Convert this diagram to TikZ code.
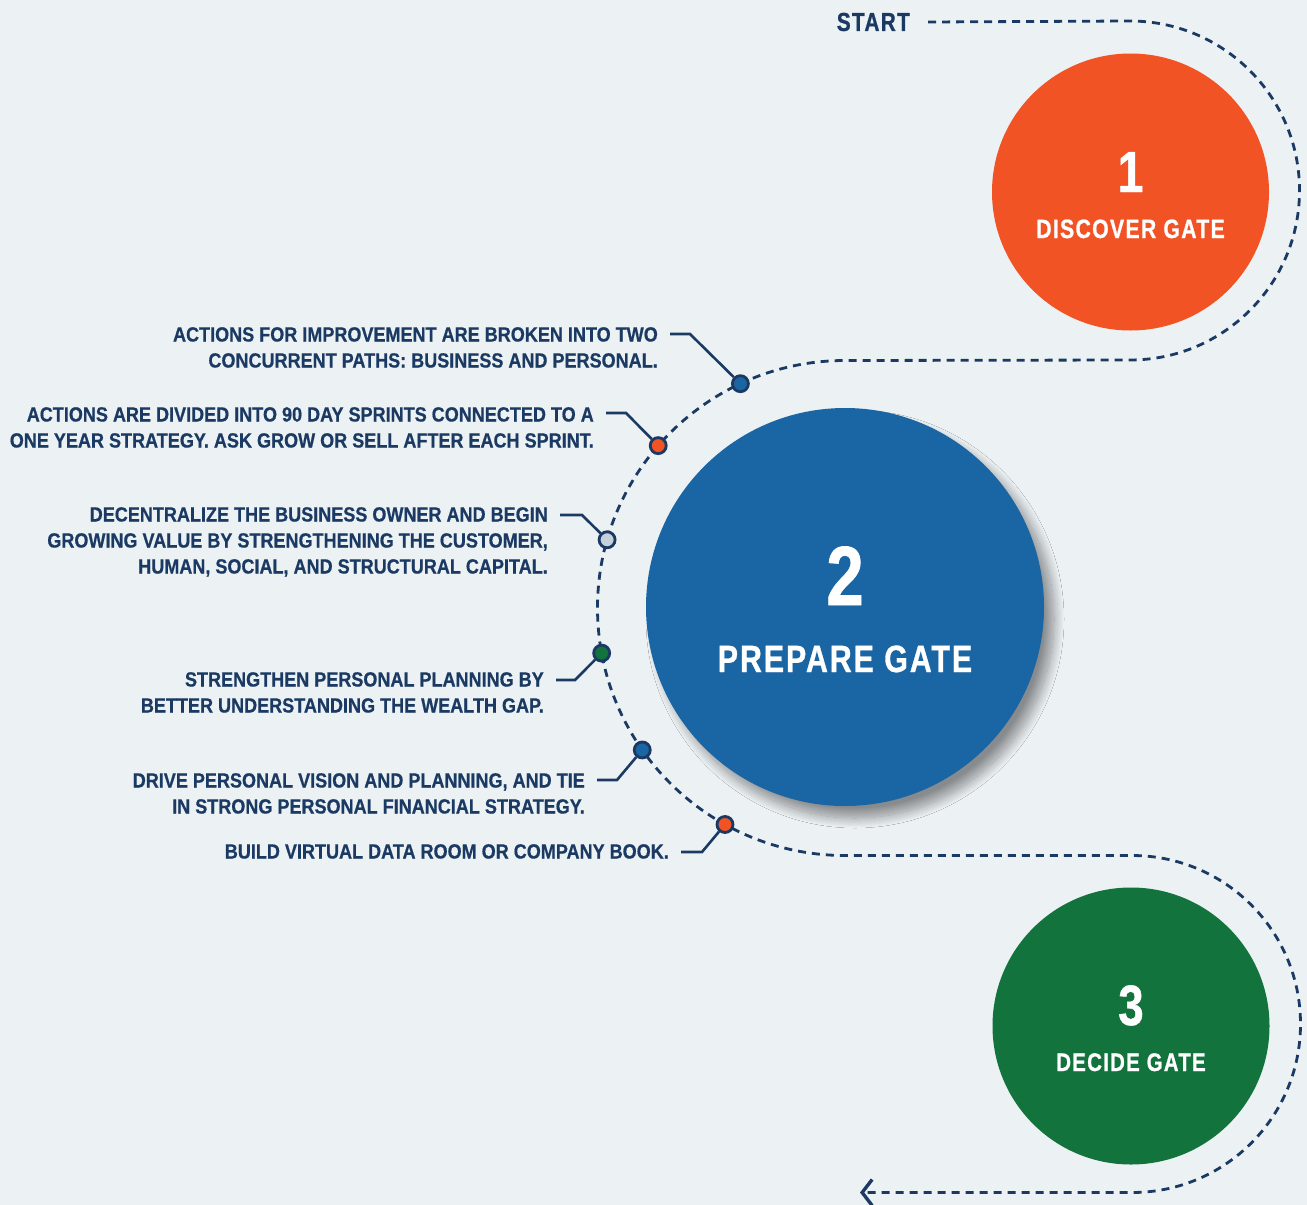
\documentclass[tikz,border=0pt]{standalone}
\usepackage{fontspec}
\setmainfont{Liberation Sans}[FakeStretch=0.88,FakeBold=0.6]
\newfontfamily\gatefont{Liberation Sans}[FakeStretch=0.8,LetterSpace=5,FakeBold=0.8]
\usetikzlibrary{arrows.meta,shadows.blur}

\definecolor{bgcol}{HTML}{ECF1F4}
\definecolor{navy}{HTML}{1B3A63}
\definecolor{orangeG}{HTML}{F15325}
\definecolor{blueG}{HTML}{1A65A4}
\definecolor{greenG}{HTML}{12733D}
\definecolor{greyDot}{HTML}{C5D0DB}

\newcommand{\notesize}{\bfseries\fontsize{20.5}{26}\selectfont}

\begin{document}
\begin{tikzpicture}[x=1pt,y=-1pt]

\tikzset{gate/.style = {shape=circle, inner sep=0pt}}
\tikzset{gatenum/.style = {anchor=base, text=white, inner sep=0pt}}
\tikzset{gatename/.style = {anchor=base, text=white, inner sep=0pt}}
\tikzset{note/.style = {anchor=north east, align=right, text=navy, font=\notesize, inner xsep=12pt, inner ysep=0pt}}
\tikzset{dot/.style = {shape=circle, draw=navy, line width=2.8pt, minimum size=16pt, inner sep=0pt}}
\tikzset{lead/.style = {draw=navy, line width=2.6pt}}
\tikzset{trail/.style = {draw=navy, line width=2.8pt, dash pattern=on 8pt off 6pt}}

% background
\useasboundingbox (0,0) rectangle (1307,1205);
\fill[bgcol] (0,0) rectangle (1307,1205);

% gates
\node[gate, fill=orangeG, minimum size=277pt] (gate1) at (1130.5,192) {};
\node[gate, fill=blueG, minimum size=398pt,
      blur shadow={shadow xshift=10pt, shadow yshift=-12pt, shadow blur radius=10pt, shadow blur steps=20, shadow opacity=42}] (gate2) at (845,607) {};
\node[gate, fill=greenG, minimum size=277pt] (gate3) at (1131,1026) {};

% gate texts
\node[gatenum, font=\gatefont\bfseries\fontsize{58}{58}\selectfont] (num1) at ([shift={(0,0)}]gate1.center) {1};
\node[gatename, font=\gatefont\bfseries\fontsize{26.5}{26}\selectfont] (name1) at ([shift={(0,46)}]gate1.center) {DISCOVER GATE};
\node[gatenum, font=\gatefont\bfseries\fontsize{84}{84}\selectfont] (num2) at ([shift={(0,-2)}]gate2.center) {2};
\node[gatename, font=\gatefont\bfseries\fontsize{38}{38}\selectfont] (name2) at ([shift={(0,65)}]gate2.center) {PREPARE GATE};
\node[gatenum, font=\gatefont\bfseries\fontsize{57}{57}\selectfont] (num3) at ([shift={(0,-1)}]gate3.center) {3};
\node[gatename, font=\gatefont\bfseries\fontsize{25.5}{25}\selectfont] (name3) at ([shift={(0,45)}]gate3.center) {DECIDE GATE};

% start label
\node[anchor=east, text=navy, font=\gatefont\bfseries\fontsize{26}{26}\selectfont, inner xsep=18pt, inner ysep=0pt] (start) at (928,22) {START};

% turning points of the trail
\coordinate (a1) at (1130,21);
\coordinate (a2) at (845,360.5);
\coordinate (a3) at (1132,855.5);
\coordinate (finish) at (860,1192.5);

% trail
\draw[trail, -{Straight Barb[length=10pt,width=26pt,line width=3.4pt]}]
  (start.east) -- (a1) arc[start angle=-90, end angle=90, radius=169.5]
  -- (a2) arc[start angle=-90, end angle=-270, radius=247.5]
  -- (a3) arc[start angle=-90, end angle=90, radius=168.5]
  -- (finish);

% dots on the trail
\node[dot, fill=blueG]   (d1) at ([shift={(-115:247.5)}]845,608) {};
\node[dot, fill=orangeG] (d2) at ([shift={(-139:247.5)}]845,608) {};
\node[dot, fill=greyDot] (d3) at ([shift={(-164:247.5)}]845,608) {};
\node[dot, fill=greenG]  (d4) at ([shift={(169.5:247.5)}]845,608) {};
\node[dot, fill=blueG]   (d5) at ([shift={(145:247.5)}]845,608) {};
\node[dot, fill=orangeG] (d6) at ([shift={(119:247.5)}]845,608) {};

% elbows
\coordinate (e1) at (690,334);
\coordinate (e2) at (626,413);
\coordinate (e3) at (582,515);
\coordinate (e4) at (575,680);
\coordinate (e5) at (617,780);
\coordinate (e6) at (702,852);

% notes
\node[note] (t1) at (670,327) {ACTIONS FOR IMPROVEMENT ARE BROKEN INTO TWO\\CONCURRENT PATHS: BUSINESS AND PERSONAL.};
\node[note] (t2) at (606,407) {ACTIONS ARE DIVIDED INTO 90 DAY SPRINTS CONNECTED TO A\\ONE YEAR STRATEGY. ASK GROW OR SELL AFTER EACH SPRINT.};
\node[note] (t3) at (560,507) {DECENTRALIZE THE BUSINESS OWNER AND BEGIN\\GROWING VALUE BY STRENGTHENING THE CUSTOMER,\\HUMAN, SOCIAL, AND STRUCTURAL CAPITAL.};
\node[note] (t4) at (556,672) {STRENGTHEN PERSONAL PLANNING BY\\BETTER UNDERSTANDING THE WEALTH GAP.};
\node[note] (t5) at (597,773) {DRIVE PERSONAL VISION AND PLANNING, AND TIE\\IN STRONG PERSONAL FINANCIAL STRATEGY.};
\node[note] (t6) at (681,844) {BUILD VIRTUAL DATA ROOM OR COMPANY BOOK.};

% leaders
\draw[lead] (d1) -- (e1) -- (e1 -| t1.east);
\draw[lead] (d2) -- (e2) -- (e2 -| t2.east);
\draw[lead] (d3) -- (e3) -- (e3 -| t3.east);
\draw[lead] (d4) -- (e4) -- (e4 -| t4.east);
\draw[lead] (d5) -- (e5) -- (e5 -| t5.east);
\draw[lead] (d6) -- (e6) -- (e6 -| t6.east);

\end{tikzpicture}
\end{document}
